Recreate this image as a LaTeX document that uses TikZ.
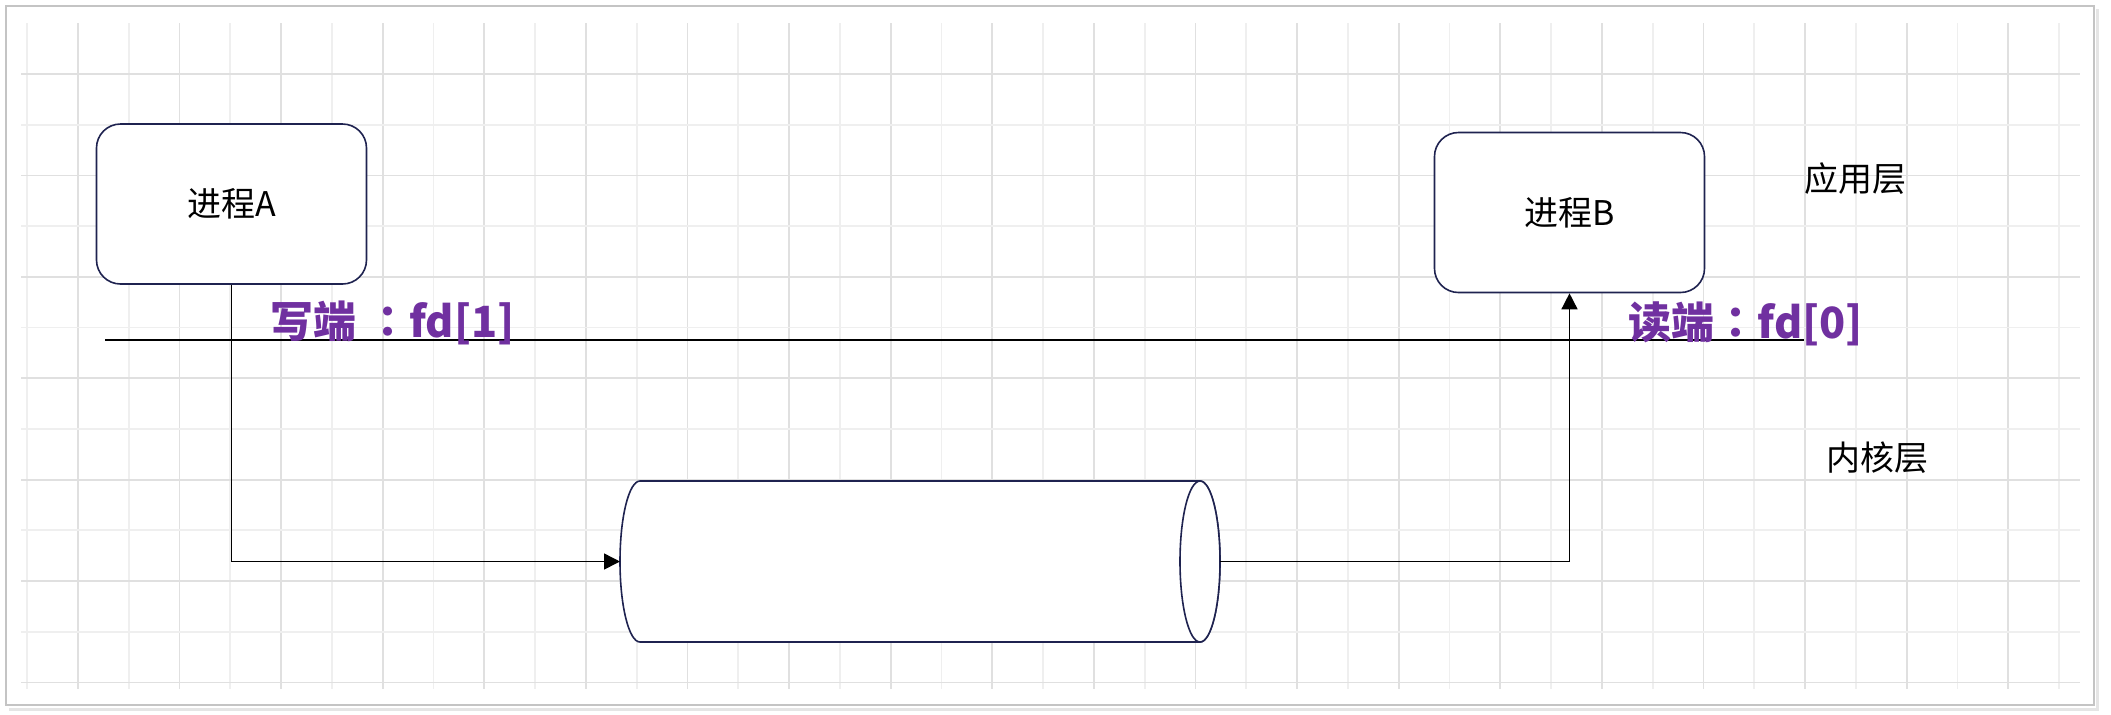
\documentclass[tikz,border=0pt]{standalone}
\usepackage{fontspec}
\usepackage{xcolor}
\usetikzlibrary{arrows.meta}
\newfontfamily\cjk{Noto Sans CJK SC}
\newfontfamily\cjkpunct{Noto Sans CJK TC}
\definecolor{boxline}{HTML}{1F2350}
\definecolor{fdpurple}{HTML}{7030A0}
\definecolor{gridlt}{HTML}{EFEFEF}
\definecolor{griddk}{HTML}{E0E0E0}
\definecolor{framegray}{HTML}{C4C4C4}
\newcommand{\fdcolon}{{\cjkpunct\bfseries ：}}
\tikzset{
  procbox/.style={draw=boxline,line width=0.8pt,rounded corners=12pt,fill=white,
    minimum width=135pt,minimum height=80pt,font=\cjk\fontsize{17}{20}\selectfont},
  layername/.style={inner sep=0pt,font=\cjk\fontsize{17}{20}\selectfont},
  fdlabel/.style={anchor=base west,inner sep=0pt,text=fdpurple,
    font=\cjk\bfseries\fontsize{21.5}{26}\selectfont},
  flow/.style={line width=0.75pt,-{Triangle[length=8pt,width=8pt]}},
  pipe/.style={draw=boxline,line width=0.8pt,fill=white},
}

\begin{document}
\begin{tikzpicture}[x=0.5pt,y=-0.5pt]
\useasboundingbox (0,0) rectangle (2111,714);
\fill[white] (0,0) rectangle (2111,714);
% background grid
\foreach \k in {0,2,...,40} \draw[gridlt,line width=0.9pt] ({27+50.8*\k},23)--({27+50.8*\k},689);
\foreach \k in {1,3,...,39} \draw[griddk,line width=0.9pt] ({27+50.8*\k},23)--({27+50.8*\k},689);
\foreach \k in {1,3,...,11} \draw[gridlt,line width=0.9pt] (21,{74+50.7*\k})--(2080,{74+50.7*\k});
\foreach \k in {0,2,...,12} \draw[griddk,line width=0.9pt] (21,{74+50.7*\k})--(2080,{74+50.7*\k});
% page frame
\draw[gray!20,line width=1.5pt] (9,709)--(2097,709)--(2097,9);
\draw[framegray,line width=1pt] (6,6) rectangle (2094,705);
% layer divider
\draw[line width=0.75pt] (105,340)--(1804,340);
% processes
\node[procbox] (procA) at (231.5,204) {进程A};
\node[procbox] (procB) at (1569.5,212.5) {进程B};
\node[layername] (appLayer) at (1855,179) {应用层};
\node[layername] (kernLayer) at (1877,458) {内核层};
% pipe
\draw[pipe] (640,481)--(1200,481) arc[start angle=90,end angle=-90,x radius=10pt,y radius=40.25pt]
  --(640,642) arc[start angle=270,end angle=90,x radius=10pt,y radius=40.25pt]--cycle;
\draw[pipe] (1200,561.5) ellipse[x radius=10pt,y radius=40.25pt];
\coordinate (pipeIn) at (620,561.5);
\coordinate (pipeOut) at (1220,561.5);
\draw[flow] (procA.south)|-(pipeIn);
\draw[flow] (pipeOut)-|(procB.south);
% fd labels
\node[fdlabel] (wrEnd) at (270,337) {写端 \fdcolon fd[1]};
\node[fdlabel] (rdEnd) at (1628,338) {读端\fdcolon fd[0]};
\end{tikzpicture}
\end{document}
